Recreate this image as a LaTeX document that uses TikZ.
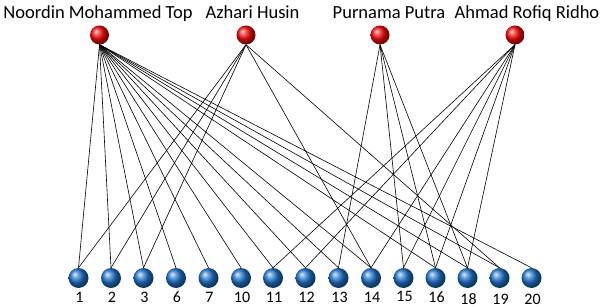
\documentclass[tikz,border=0pt]{standalone}
\usepackage{fontspec}
\setmainfont{Carlito}
\usetikzlibrary{backgrounds}
\definecolor{ballblue}{RGB}{35,120,210}
\definecolor{ballred}{RGB}{250,10,10}
\begin{document}
\begin{tikzpicture}[x=1pt,y=-1pt,
  person/.style={circle, inner sep=0pt, minimum size=19pt, ball color=ballred},
  item/.style={circle, inner sep=0pt, minimum size=20pt, ball color=ballblue},
  namelabel/.style={anchor=base, inner sep=0pt, font=\fontsize{18.5}{20}\selectfont},
  numlabel/.style={anchor=base, inner sep=0pt, font=\fontsize{16}{18}\selectfont},
  edge/.style={draw=black, line width=0.6pt}]
\useasboundingbox (0,0) rectangle (601,307);
% people
\node[person] (N) at (99.5,35) {};
\node[person] (A) at (246,35) {};
\node[person] (P) at (380,35) {};
\node[person] (R) at (515,35) {};
\node[namelabel] (tN) at (98,19) {Noordin Mohammed Top};
\node[namelabel] (tA) at (252.5,19) {Azhari Husin};
\node[namelabel] (tP) at (389,19) {Purnama Putra};
\node[namelabel] (tR) at (527,19) {Ahmad Rofiq Ridho};
% items
\foreach \n/\x/\ly in {1/78.5/302.5, 2/111/302.5, 3/143.5/302.5, 6/176/302.5, 7/208.5/302.5,
  10/241/302.5, 11/273/302.5, 12/305.5/302.5, 13/338.5/302.5, 14/371/302.5, 15/403.5/301,
  16/435.5/302.5, 18/467.5/304, 19/499.5/304, 20/531.5/304} {
  \node[item] (b\n) at (\x,278) {};
  \node[numlabel] (l\n) at (\x+1,\ly) {\n};
}
\begin{pgfonlayer}{background}
\foreach \b in {1,2,3,6,7,10,11,12,13,14,16,18,19,20}
  \draw[edge] (N.south) -- (b\b.north);
\foreach \b in {1,2,3,14,19}
  \draw[edge] (A.south) -- (b\b.north);
\foreach \b in {13,15,16,18}
  \draw[edge] (P.south) -- (b\b.north);
\foreach \b in {11,12,14,15,16,18}
  \draw[edge] (R.south) -- (b\b.north);
\end{pgfonlayer}
\end{tikzpicture}
\end{document}
